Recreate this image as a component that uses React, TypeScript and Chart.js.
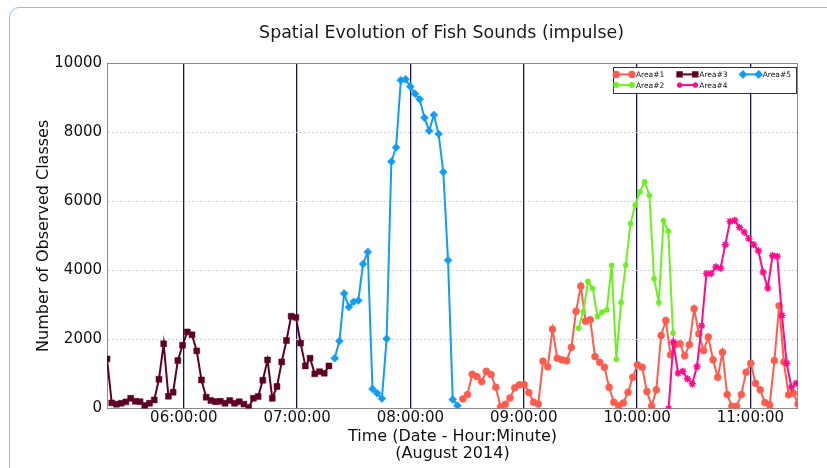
import React, { useEffect, useRef } from 'react';
import { Chart, registerables } from 'chart.js';
import { drawPoint } from 'chart.js/helpers';

Chart.register(...registerables);

const FONT = '"DejaVu Sans", "Liberation Sans", sans-serif';

const chartTitle = 'Spatial Evolution of Fish Sounds (impulse)';
const xTitle = ['Time (Date - Hour:Minute)', '(August 2014)'];
const yTitle = 'Number of Observed Classes';

const STEP_MINUTES = 2.5;

const seriesNames = ['Area#1', 'Area#2', 'Area#3', 'Area#4', 'Area#5'];
const seriesColors = ['#ff5c4d', '#6cf020', '#5e0025', '#ff0a8a', '#119df5'];
const seriesMarkers = ['circle', 'circle', 'rect', 'star', 'rectRot'];
const seriesMarkerRadius = [3.5, 2.6, 4.2, 3.6, 4];

// first sample time of each series (hh:mm:ss), samples every 2.5 minutes
const area1Start = '08:27:42';
const area2Start = '09:29:00';
const area3Start = '05:19:21';
const area4Start = '10:16:42';
const area5Start = '07:19:54';

const area1Values = [
  281, 406, 994, 928, 783, 1081, 986, 617, 49, 125, 310, 600, 687, 696, 464, 183, 136, 1371, 1209, 2299,
  1458, 1412, 1383, 1777, 2820, 3545, 2530, 2571, 1507, 1342, 1197, 617, 183, 87, 165, 472, 907, 1267, 1197, 493,
  78, 542, 2116, 2551, 1556, 1855, 1875, 1527, 1855, 2890, 2165, 1681, 2072, 1412, 907, 1632, 406, 67, 67, 406,
  1052, 1313, 733, 542, 174, 107, 1391, 2977, 1350, 400, 450, 130,
];
const area2Values = [
  2328, 2812, 3681, 3478, 2667, 2791, 2861, 4145, 1429, 3072, 4154, 5354, 5893, 6270, 6560, 6174, 3759, 3072,
  5440, 5135, 2190,
];
const area3Values = [
  1440, 165, 125, 155, 195, 300, 210, 200, 87, 155, 250, 850, 1875, 357, 473, 1390, 1835, 2220, 2135, 1670,
  830, 330, 232, 200, 212, 154, 232, 154, 200, 130, 30, 300, 350, 820, 1410, 300, 640, 1350, 1970, 2675,
  2640, 1895, 1235, 1460, 1005, 1070, 1025, 1235,
];
const area4Values = [
  0, 1922, 1023, 1081, 861, 716, 1217, 2400, 3907, 3907, 4101, 4063, 4745, 5420, 5449, 5246, 5110, 4918, 4745,
  4571, 3951, 3487, 4426, 4406, 2696, 1313, 617, 733,
];
const area5Values = [
  1460, 1960, 3333, 2940, 3090, 3130, 4185, 4530, 570, 445, 290, 2020, 7150, 7560, 9500, 9530, 9320, 9110,
  8950, 8420, 8040, 8500, 7950, 6845, 4290, 265, 92,
];

const seriesStarts = [area1Start, area2Start, area3Start, area4Start, area5Start];
const seriesValues = [area1Values, area2Values, area3Values, area4Values, area5Values];

const xTickLabels = ['06:00:00', '07:00:00', '08:00:00', '09:00:00', '10:00:00', '11:00:00'];
const yTickValues = [0, 2000, 4000, 6000, 8000, 10000];

function toMinutes(t: string): number {
  const [h, m, s] = t.split(':').map(Number);
  return h * 60 + m + s / 60;
}

const xTickMinutes = xTickLabels.map(toMinutes);

const seriesPoints = seriesValues.map((vals, i) => {
  const t0 = toMinutes(seriesStarts[i]);
  return vals.map((v, j) => ({ x: t0 + j * STEP_MINUTES, y: v }));
});

const allX = seriesPoints.flat().map((p) => p.x);
const xMin = Math.min(...allX);
const xMax = Math.max(...allX);

const titleShift = {
  id: 'titleShift',
  afterLayout(chart: any) {
    const t = chart.titleBlock;
    if (t) {
      t.left -= 11;
      t.right -= 11;
    }
  },
};

const framePlugin = {
  id: 'plotFrame',
  beforeDatasetsDraw(chart: any) {
    const { ctx, chartArea } = chart;
    ctx.save();
    ctx.strokeStyle = '#8a8a8a';
    ctx.lineWidth = 1;
    ctx.strokeRect(
      Math.round(chartArea.left) + 0.5,
      Math.round(chartArea.top) + 0.5,
      Math.round(chartArea.right - chartArea.left) - 1,
      Math.round(chartArea.bottom - chartArea.top) - 1
    );
    ctx.restore();
  },
};

const legendPlugin = {
  id: 'areaLegend',
  afterDraw(chart: any) {
    const { ctx, chartArea } = chart;
    const boxW = 182.6;
    const boxH = 25.7;
    const left = chartArea.right - 2.7 - boxW;
    const top = chartArea.top + 4;
    ctx.save();
    ctx.fillStyle = '#ffffff';
    ctx.fillRect(left, top, boxW, boxH);
    ctx.strokeStyle = '#333333';
    ctx.lineWidth = 1;
    ctx.strokeRect(Math.round(left) + 0.5, Math.round(top) + 0.5, Math.round(boxW), Math.round(boxH));
    chart.data.datasets.forEach((ds: any, i: number) => {
      const col = Math.floor(i / 2);
      const row = i % 2;
      const x0 = left + 3.5 + col * 63.4;
      const x1 = x0 + 15.7;
      const y = top + 7.3 + row * 10.7;
      ctx.strokeStyle = ds.borderColor;
      ctx.fillStyle = ds.borderColor;
      ctx.lineWidth = 2;
      ctx.beginPath();
      ctx.moveTo(x0, y);
      ctx.lineTo(x1, y);
      ctx.stroke();
      const opts = {
        pointStyle: ds.pointStyle,
        radius: Math.max(2, ds.pointRadius * 0.75),
        borderWidth: ds.pointStyle === 'star' ? 1.2 : 0.5,
        rotation: 0,
      };
      drawPoint(ctx, opts as any, x0, y);
      drawPoint(ctx, opts as any, x1, y);
      ctx.fillStyle = '#111111';
      ctx.font = '7.5px ' + FONT;
      ctx.textBaseline = 'middle';
      ctx.textAlign = 'left';
      ctx.fillText(ds.label, x1 + 4, y + 0.5);
    });
    ctx.restore();
  },
};

export default function App() {
  const ref = useRef<HTMLCanvasElement>(null);

  useEffect(() => {
    if (!ref.current) return;
    Chart.defaults.font.family = FONT;
    const datasets = seriesNames.map((name, i) => ({
      label: name,
      data: seriesPoints[i],
      borderColor: seriesColors[i],
      backgroundColor: seriesColors[i],
      pointBackgroundColor: seriesColors[i],
      pointBorderColor: seriesColors[i],
      pointStyle: seriesMarkers[i],
      pointRadius: seriesMarkerRadius[i],
      pointBorderWidth: seriesMarkers[i] === 'star' ? 1.5 : 0.5,
      borderWidth: 2,
      tension: 0,
      fill: false,
      showLine: true,
      order: seriesNames.length - 1 - i,
    }));

    const chart = new Chart(ref.current, {
      type: 'line',
      data: { datasets },
      plugins: [titleShift, framePlugin, legendPlugin],
      options: {
        animation: false,
        responsive: false,
        maintainAspectRatio: false,
        events: [],
        layout: { padding: { left: 32, right: 29, top: 8, bottom: 5.2 } },
        plugins: {
          legend: { display: false },
          tooltip: { enabled: false },
          title: {
            display: true,
            text: chartTitle,
            fullSize: false,
            color: '#1a1a1a',
            font: { family: FONT, size: 17.4, weight: 'normal', lineHeight: 1.2 },
            padding: { top: 14.6, bottom: 19.6 },
          },
        },
        scales: {
          x: {
            type: 'linear',
            min: xMin,
            max: xMax,
            afterBuildTicks: (axis: any) => {
              axis.ticks = xTickMinutes.map((v) => ({ value: v }));
            },
            ticks: {
              autoSkip: false,
              maxRotation: 0,
              padding: 0.5,
              color: '#111111',
              font: { family: FONT, size: 15 },
              callback: (v: any) => {
                const idx = xTickMinutes.findIndex((m) => Math.abs(m - Number(v)) < 1e-6);
                return idx >= 0 ? xTickLabels[idx] : '';
              },
            },
            grid: { color: '#17174f', lineWidth: 1.3, drawTicks: false },
            border: { color: '#8a8a8a', width: 1 },
            title: {
              display: true,
              text: xTitle,
              color: '#111111',
              font: { family: FONT, size: 16, lineHeight: 1.1 },
              padding: { top: 0, bottom: 0 },
            },
          },
          y: {
            type: 'linear',
            min: 0,
            max: 10000,
            afterBuildTicks: (axis: any) => {
              axis.ticks = yTickValues.map((v) => ({ value: v }));
            },
            ticks: {
              padding: 5,
              color: '#111111',
              font: { family: FONT, size: 15 },
              callback: (v: any) => String(v),
            },
            grid: {
              color: (c: any) =>
                c.tick && (c.tick.value === 0 || c.tick.value === 10000) ? 'rgba(0,0,0,0)' : '#c4c4c4',
              lineWidth: 1,
              drawTicks: false,
            },
            border: { color: '#8a8a8a', width: 1, dash: [1.5, 2.5] },
            title: {
              display: true,
              text: yTitle,
              color: '#111111',
              font: { family: FONT, size: 16, lineHeight: 1.0 },
              padding: { top: 4, bottom: -2.7 },
            },
          },
        },
      } as any,
    });
    return () => chart.destroy();
  }, []);

  return (
    <div
      style={{
        position: 'fixed',
        left: 0,
        top: 0,
        width: 827,
        height: 468,
        background: '#ffffff',
        overflow: 'hidden',
      }}
    >
      <div
        style={{
          position: 'absolute',
          left: 9,
          top: 7,
          width: 900,
          height: 600,
          border: '1.5px solid #86c1ee',
          borderRadius: 10,
          boxSizing: 'border-box',
        }}
      />
      <canvas
        ref={ref}
        width={827}
        height={468}
        style={{ position: 'absolute', left: 0, top: 0, width: 827, height: 468 }}
      />
    </div>
  );
}
